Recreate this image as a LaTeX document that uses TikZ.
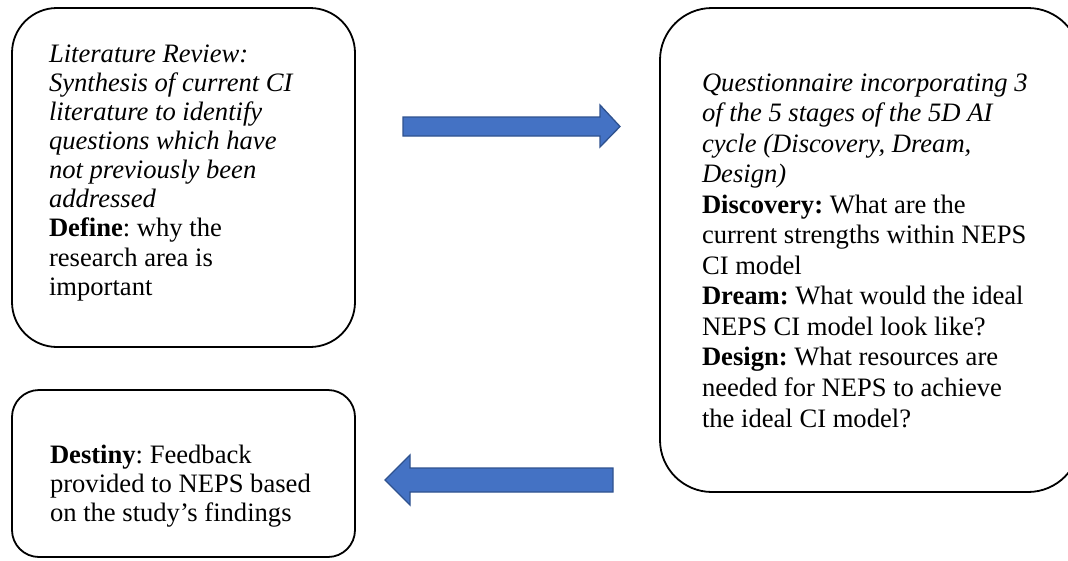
\documentclass[tikz,border=0pt]{standalone}
\usepackage{fontspec}
\setmainfont{Liberation Serif}
\frenchspacing
\definecolor{arrowfill}{HTML}{4472C4}
\definecolor{arrowline}{HTML}{2F528F}
\tikzset{
  stagebox/.style={draw=black, line width=1.8pt, fill=white},
  blockarrow/.style={fill=arrowfill, draw=arrowline, line width=1.3pt, line join=miter},
  boxtext/.style={anchor=base west, inner sep=0pt, outer sep=0pt}
}
\newcommand{\boxlines}[2]{\parbox[t]{12cm}{\fontsize{26.6}{#1}\selectfont\frenchspacing\raggedright #2}}
\begin{document}
\begin{tikzpicture}[x=1pt,y=-1pt]
\useasboundingbox (0,0) rectangle (1068,560);
\clip (0,0) rectangle (1068,560);
% boxes
\draw[stagebox, rounded corners=45pt] (12,8) rectangle (355,347);
\draw[stagebox, rounded corners=52pt] (660,8) rectangle (1080,492);
\draw[stagebox, rounded corners=27pt] (12,390) rectangle (355,557);
% texts
\node[boxtext] (t1) at (49,62) {\boxlines{29.15}{\textit{Literature Review:}\\
\textit{Synthesis of current CI}\\
\textit{literature to identify}\\
\textit{questions which have}\\
\textit{not previously been}\\
\textit{addressed}\\
\textbf{Define}: why the\\
research area is\\
important}};
\node[boxtext] (t2) at (702,91) {\boxlines{30.55}{\textit{Questionnaire incorporating 3}\\
\textit{of the 5 stages of the 5D AI}\\
\textit{cycle (Discovery, Dream,}\\
\textit{Design)}\\
\textbf{Discovery:} What are the\\
current strengths within NEPS\\
CI model\\
\textbf{Dream:} What would the ideal\\
NEPS CI model look like?\\
\textbf{Design:} What resources are\\
needed for NEPS to achieve\\
the ideal CI model?}};
\node[boxtext] (t3) at (50,463) {\boxlines{29}{\textbf{Destiny}: Feedback\\
provided to NEPS based\\
on the study’s findings}};
% block arrows
\draw[blockarrow] (403,117) -- (600,117) -- (600,105) -- (620,126.5) -- (600,147) -- (600,136) -- (403,136) -- cycle;
\draw[blockarrow] (613,468) -- (410,468) -- (410,455) -- (385,480) -- (410,505) -- (410,492) -- (613,492) -- cycle;
\end{tikzpicture}
\end{document}
